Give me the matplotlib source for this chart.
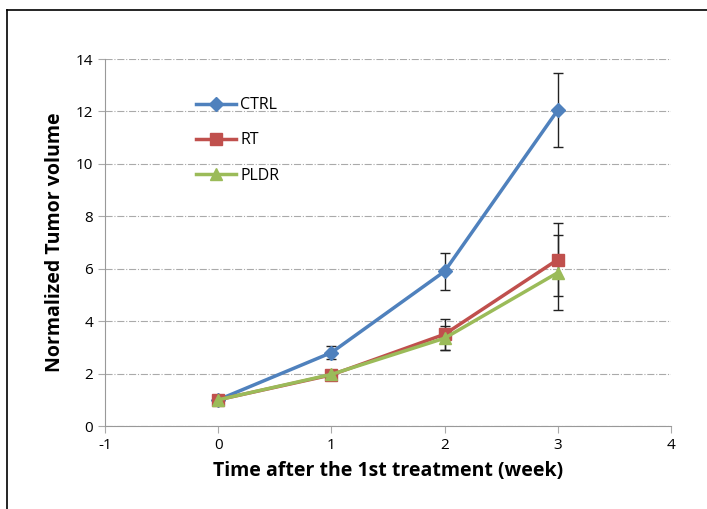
import matplotlib
matplotlib.use('Agg')
import matplotlib.pyplot as plt
from matplotlib.lines import Line2D

# --- data ---
weeks = [0, 1, 2, 3]
ctrl = [1.0, 2.8, 5.9, 12.05]
ctrl_err = [0.05, 0.25, 0.7, 1.42]
rt = [1.0, 1.95, 3.5, 6.35]
rt_err = [0.05, 0.1, 0.6, 1.4]
pldr = [1.0, 1.97, 3.35, 5.85]
pldr_err = [0.05, 0.08, 0.45, 1.42]

x_ticks = [-1, 0, 1, 2, 3, 4]
y_ticks = [0, 2, 4, 6, 8, 10, 12, 14]

plt.rcParams['font.family'] = ['Open Sans', 'DejaVu Sans']
plt.rcParams['axes.unicode_minus'] = False

fig = plt.figure(figsize=(7.07, 5.09), dpi=100)
ax = fig.add_axes([0.1485, 0.163, 0.8005, 0.721])

series = [
    ('CTRL', ctrl, ctrl_err, '#4f81bd', 'D', 7),
    ('RT', rt, rt_err, '#c0504d', 's', 8),
    ('PLDR', pldr, pldr_err, '#9bbb59', '^', 9),
]
for name, vals, errs, color, marker, ms in series:
    ax.errorbar(weeks, vals, yerr=errs, color=color, lw=2.5, marker=marker,
                markersize=ms, ecolor='#222222', elinewidth=1, capsize=3.5,
                capthick=1, label=name, zorder=3)

ax.set_xlim(-1, 4)
ax.set_ylim(0, 14)
ax.set_xticks(x_ticks)
ax.set_yticks(y_ticks)
ax.tick_params(labelsize=11, length=5, color='#aaaaaa')
ax.yaxis.grid(True, color='#aaaaaa', linestyle='-.', linewidth=0.8)
ax.set_axisbelow(True)
for s in ['top', 'right']:
    ax.spines[s].set_visible(False)
for s in ['left', 'bottom']:
    ax.spines[s].set_color('#999999')

ax.set_xlabel('Time after the 1st treatment (week)', fontsize=14, fontweight='bold', labelpad=6)
ax.set_ylabel('Normalized Tumor volume', fontsize=14, fontweight='bold', labelpad=8)

# legend without error bars
handles = [Line2D([], [], color=c, lw=2.5, marker=m, markersize=ms)
           for _, _, _, c, m, ms in series]
ax.legend(handles, [s[0] for s in series], loc='upper left',
          bbox_to_anchor=(0.135, 0.935), frameon=False, fontsize=11.5,
          handlelength=2.5, labelspacing=1.2, handletextpad=0.3)

# outer frame (cropped at right and bottom)
fig.add_artist(Line2D([0.010, 0.010], [0.0, 0.980], color='black', lw=1.2))
fig.add_artist(Line2D([0.010, 1.0], [0.980, 0.980], color='black', lw=1.2))

fig.savefig('out.png', dpi=100)
